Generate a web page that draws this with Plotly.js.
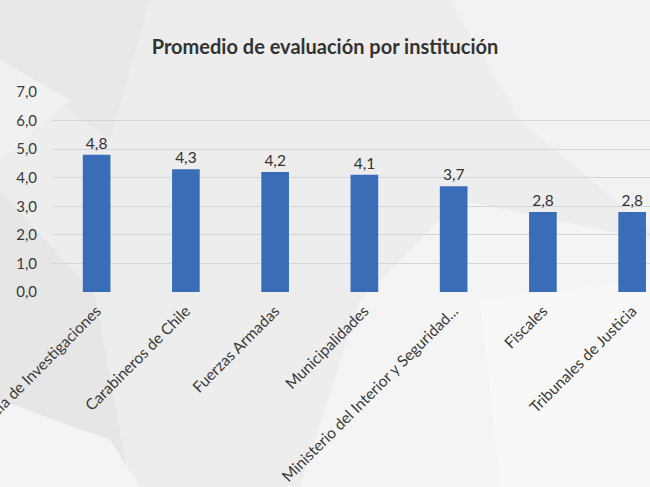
<!DOCTYPE html>
<html>
<head>
<meta charset="utf-8">
<script src="https://cdn.plot.ly/plotly-3.0.1.min.js"></script>
<style>
  html, body { margin: 0; padding: 0; background: #ededed; }
  #chart { width: 650px; height: 487px; }
</style>
</head>
<body>
<div id="chart"></div>
<script>
var instituciones = [
  'Policía de Investigaciones',
  'Carabineros de Chile',
  'Fuerzas Armadas',
  'Municipalidades',
  'Ministerio del Interior y Seguridad...',
  'Fiscales',
  'Tribunales de Justicia'
];

var promedios = [4.8, 4.3, 4.2, 4.1, 3.7, 2.8, 2.8];

var etiquetas = promedios.map(function (v) {
  return v.toFixed(1).replace('.', ',');
});

// page size and margins, used to place the background shapes in pixels
var W = 650, H = 487;
var M = { l: 52, r: 0, t: 92, b: 195 };

function px(x) { return (x - M.l) / (W - M.l - M.r); }
function py(y) { return (H - M.b - y) / (H - M.t - M.b); }

function poly(points, color) {
  var d = points.map(function (p, i) {
    return (i ? 'L' : 'M') + px(p[0]).toFixed(4) + ',' + py(p[1]).toFixed(4);
  }).join(' ') + ' Z';
  return {
    type: 'path', xref: 'paper', yref: 'paper', path: d,
    fillcolor: color, line: { width: 0 }, layer: 'below'
  };
}

// soft grey facets of the slide background
var fondo = [
  poly([[0, 0], [150, 0], [110, 140], [0, 60]], '#e8e8e8'),
  poly([[0, 60], [70, 100], [0, 160]], '#f1f1f1'),
  poly([[0, 190], [95, 295], [130, 487], [0, 487]], '#e6e6e6'),
  poly([[0, 400], [110, 440], [140, 487], [0, 487]], '#f4f4f4'),
  poly([[450, 0], [650, 0], [650, 230], [520, 120]], '#f2f2f2'),
  poly([[300, 487], [360, 300], [460, 200], [650, 240], [650, 487]], '#f4f4f4'),
  poly([[500, 487], [480, 300], [650, 280], [650, 487]], '#f8f8f8')
];

var trace = {
  x: instituciones,
  y: promedios,
  type: 'bar',
  width: 0.31,
  marker: { color: '#3a6db8' },
  text: etiquetas,
  textposition: 'outside',
  cliponaxis: false,
  textfont: { family: 'Lato, sans-serif', size: 15.5, color: '#333333' },
  hoverinfo: 'x+y'
};

var layout = {
  width: W,
  height: H,
  margin: M,
  paper_bgcolor: '#ededed',
  plot_bgcolor: 'rgba(0,0,0,0)',
  separators: ',.',
  font: { family: 'Lato, sans-serif', color: '#3a3a3a' },
  title: {
    text: 'Promedio de evaluación por institución',
    x: 0.5, xref: 'container',
    y: 1 - 47 / H, yref: 'container', yanchor: 'middle',
    font: { family: 'Lato, sans-serif', size: 20, color: '#333333', weight: 'bold' }
  },
  xaxis: {
    range: [-0.5, 6.2],
    tickangle: -45,
    automargin: false,
    showgrid: false,
    showline: false,
    ticks: '',
    ticklabelstandoff: 6,
    tickfont: { size: 15.5, color: '#3a3a3a' },
    fixedrange: true
  },
  yaxis: {
    range: [0, 7],
    dtick: 1,
    tickformat: '.1f',
    showgrid: true,
    gridcolor: '#d6d6d6',
    gridwidth: 1,
    zeroline: false,
    showline: false,
    ticks: '',
    ticklabelstandoff: 14,
    automargin: false,
    tickfont: { size: 15, color: '#3a3a3a' },
    fixedrange: true
  },
  shapes: fondo,
  showlegend: false,
  bargap: 0.7
};

Plotly.newPlot('chart', [trace], layout, { displayModeBar: false, staticPlot: true });
</script>
</body>
</html>
